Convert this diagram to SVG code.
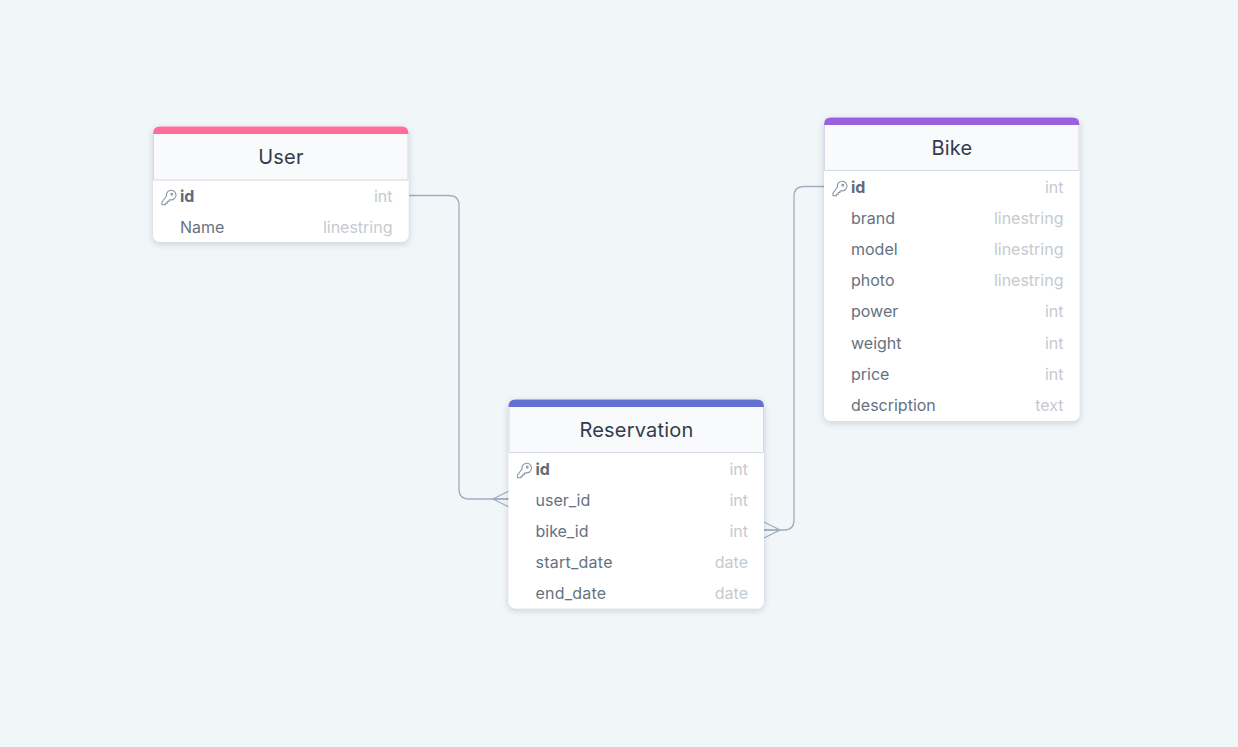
<svg xmlns="http://www.w3.org/2000/svg" width="1238" height="747" viewBox="0 0 1238 747">
<style>
text{font-family:Inter,"Liberation Sans",sans-serif}
.t{font-size:20px;fill:#333c4d;text-anchor:middle;letter-spacing:.2px}
.n{font-size:16px;fill:#66727f}
.b{font-size:16px;fill:#5f6b7a;font-weight:700}
.y{font-size:16px;fill:#c6cacf;text-anchor:end}
.hd{fill:#f8fafc;stroke:#d3dae3;stroke-width:1}
.c{fill:none;stroke:#a0aec0;stroke-width:1.3}
.k{fill:none;stroke:#8b96a3;stroke-width:1.1;stroke-linejoin:round}
.body{fill:#fff;filter:url(#s)}
</style>
<defs>
<filter id="s" x="-10%" y="-10%" width="120%" height="120%"><feDropShadow dx="0" dy="2" stdDeviation="3" flood-color="#1a2b42" flood-opacity=".18"/></filter>
<g id="key"><path class="k" d="M5.500 5.500A4.800 4.800 0 1 1 9.500 9.300L8 9.500V11H6.300V12.700H4.500V14.300H1V11.500Z"/><circle cx="10.800" cy="3.800" r=".9" class="k"/></g>
</defs>
<rect width="1238" height="747" fill="#f1f6f9"/>
<g id="connectors">
<path class="c" d="M409 195.500H449Q459 195.500 459 205.500V489Q459 499 469 499H509"/>
<path class="c" d="M509 491L493 499L509 507M493 499H509"/>
<path class="c" d="M824 186.500H804Q794 186.500 794 196.500V520Q794 530 784 530H764"/>
<path class="c" d="M764 522L780 530L764 538M780 530H764"/>
</g>
<g id="node-user">
<rect class="body" x="153" y="126.500" width="255.500" height="115.500" rx="7"/>
<path class="hd" d="M153.500 133H408V180H153.500Z"/>
<path fill="#ff6b9b" d="M153 134V133.500Q153 126.500 160 126.500H401.500Q408.500 126.500 408.500 133.500V134Z"/>
<text class="t" x="281" y="164">User</text>
<use href="#key" x="161" y="190.500"/>
<text class="b" x="180" y="202">id</text><text class="y" x="392.500" y="202">int</text>
<text class="n" x="180" y="233">Name</text><text class="y" x="392.500" y="233">linestring</text>
</g>
<g id="node-bike">
<rect class="body" x="824" y="117.500" width="255.500" height="303.500" rx="7"/>
<path class="hd" d="M824.500 124H1079V170.500H824.500Z"/>
<path fill="#9961dd" d="M824 125V124.500Q824 117.500 831 117.500H1072.500Q1079.500 117.500 1079.500 124.500V125Z"/>
<text class="t" x="952" y="155">Bike</text>
<use href="#key" x="832" y="181.500"/>
<text class="b" x="851" y="193">id</text><text class="y" x="1063.500" y="193">int</text>
<text class="n" x="851" y="224">brand</text><text class="y" x="1063.500" y="224">linestring</text>
<text class="n" x="851" y="255">model</text><text class="y" x="1063.500" y="255">linestring</text>
<text class="n" x="851" y="286">photo</text><text class="y" x="1063.500" y="286">linestring</text>
<text class="n" x="851" y="317">power</text><text class="y" x="1063.500" y="317">int</text>
<text class="n" x="851" y="349">weight</text><text class="y" x="1063.500" y="349">int</text>
<text class="n" x="851" y="380">price</text><text class="y" x="1063.500" y="380">int</text>
<text class="n" x="851" y="411">description</text><text class="y" x="1063.500" y="411">text</text>
</g>
<g id="node-reservation">
<rect class="body" x="508.500" y="399.500" width="255.500" height="209" rx="7"/>
<path class="hd" d="M509 406H763.500V452.500H509Z"/>
<path fill="#6370cf" d="M508.500 407V406.500Q508.500 399.500 515.500 399.500H757Q764 399.500 764 406.500V407Z"/>
<text class="t" x="636.500" y="437">Reservation</text>
<use href="#key" x="516.500" y="463.500"/>
<text class="b" x="535.500" y="475">id</text><text class="y" x="748" y="475">int</text>
<text class="n" x="535.500" y="506">user_id</text><text class="y" x="748" y="506">int</text>
<text class="n" x="535.500" y="537">bike_id</text><text class="y" x="748" y="537">int</text>
<text class="n" x="535.500" y="568" textLength="77">start_date</text><text class="y" x="748" y="568">date</text>
<text class="n" x="535.500" y="599" textLength="70.500">end_date</text><text class="y" x="748" y="599">date</text>
</g>
</svg>
